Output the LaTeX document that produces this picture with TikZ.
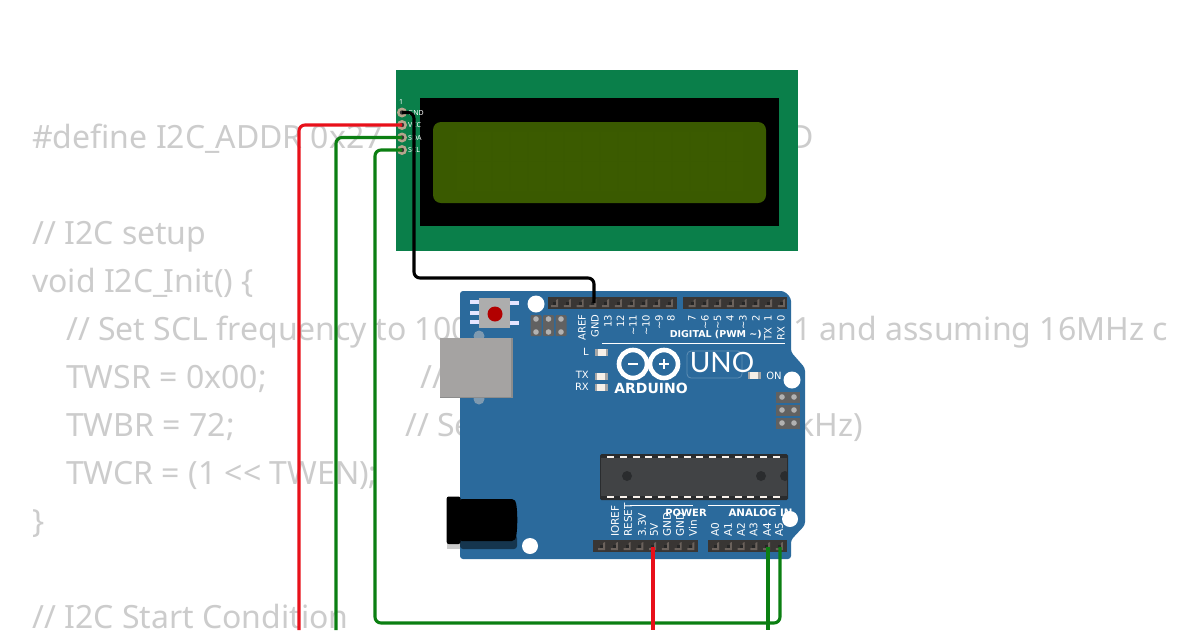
\documentclass[tikz,border=0pt]{standalone}
\usepackage{fontspec}
\setmainfont{Noto Sans}
\newfontfamily\lightuno{Lato}
\newfontfamily\silkfont{DejaVu Sans}
\colorlet{codegrey}{black!20}
\definecolor{pcbblue}{HTML}{2B6A9C}
\definecolor{lcdgreen}{HTML}{0A7F4A}
\definecolor{lcdolive}{HTML}{3A5A00}
\definecolor{cellolive}{HTML}{3B5B00}
\definecolor{hdrdark}{HTML}{393634}
\definecolor{hdrpin}{HTML}{6B625C}
\definecolor{pintan}{HTML}{B5A58C}
\definecolor{wirered}{HTML}{E8101A}
\definecolor{wiregreen}{HTML}{0B7F12}
\definecolor{icbody}{HTML}{414345}
\definecolor{icedge}{HTML}{2A2C2E}
\definecolor{usbgrey}{HTML}{A5A3A2}
\definecolor{bumpblue}{HTML}{7F9AB0}
\tikzset{
  code/.style={anchor=base west,inner sep=0pt,text=codegrey,font=\fontsize{32}{32}\selectfont},
  wire/.style={line width=3.1pt,rounded corners=6pt},
  hole/.style={fill=white,draw=none},
  silk/.style={inner sep=0pt,text=white,font=\silkfont\fontsize{10}{10}\selectfont},
  silkb/.style={inner sep=0pt,text=white,font=\silkfont\bfseries\fontsize{10}{10}\selectfont},
  lcdpin/.style={inner sep=0pt,anchor=west,text=white,font=\fontsize{7}{7}\selectfont},
}
\newcommand{\hdrbar}[3]{% x0, x1, y-top
  \fill[hdrdark] (#1,#3) rectangle (#2,#3+12);}
\newcommand{\hdrmark}[2]{% x, y-top
  \fill[hdrpin] (#1-4,#2+8) -- (#1+1,#2+8) -- (#1+1,#2+3) -- (#1+3,#2+2) -- (#1+3,#2+10) -- (#1-4,#2+10) -- cycle;
  \fill[black!85] (#1-2,#2+5) rectangle (#1+1,#2+8);}
\newcommand{\ledpart}[2]{%
  \fill[white!88!brown] (#1-6.5,#2-3.5) rectangle (#1+6.5,#2+3.5);
  \fill[black!35] (#1-6.5,#2-3.5) rectangle (#1-4,#2+3.5);
  \fill[black!35] (#1+4,#2-3.5) rectangle (#1+6.5,#2+3.5);}
\begin{document}
\begin{tikzpicture}[x=1pt,y=-1pt]
\useasboundingbox (0,0) rectangle (1200,630);
\fill[white] (0,0) rectangle (1200,630);
% code behind the parts
\node[code] (c1) at (32,148) {\#define I2C\_\hspace{-4pt}ADDR 0x27};
\node[code] (c1b) at (790,148) {D};
\node[code] (c2) at (32,244) {// I2C setup};
\node[code] (c3) at (32,292) {void I2C\_\hspace{-4pt}Init() \{};
\node[code] (c4) at (66,340) {// Set SCL frequency to 100};
\node[code] (c4b) at (793,340) {1 and assuming 16MHz c};
\node[code] (c5) at (66,388) {TWSR = 0x00;};
\node[code] (c5b) at (420,388) {//};
\node[code] (c6) at (66,436) {TWBR = 72;};
\node[code] (c6b) at (405,436) {// Se};
\node[code] (c6c) at (797,436) {kHz)};
\node[code] (c7) at (66,484) {TWCR = (1 <{}< TWEN);};
\node[code] (c8) at (32,532) {\}};
\node[code] (c9) at (32,628) {// I2C Start Condition};
% LCD
\fill[lcdgreen] (396,70) rectangle (798,251);
\fill[black] (420,98) rectangle (779,226);
\fill[lcdolive,rounded corners=8pt] (433,122) rectangle (766,203);
\foreach \i in {0,...,15}{
  \foreach \j in {0,1}{
    \fill[cellolive] (457+\i*18,132+\j*30) rectangle (473+\i*18,161+\j*30);
  }}
\node[lcdpin,anchor=center] (l1) at (401,102) {1};
\foreach \nm/\yy/\txt in {gnd/112.5/GND,vcc/125/VCC,sda/137.5/SDA,scl/150/SCL}{
  \fill[pintan] (402,\yy) circle (5);
  \fill[black!80] (402,\yy) circle (2.2);
  \node[lcdpin] (lbl\nm) at (408,\yy) {\txt};
  \coordinate (pin\nm) at (402,\yy);
}
% board
\fill[pcbblue,rounded corners=3pt] (460,291) -- (784,291) -- (791,298) -- (791,352) -- (805,368) -- (805,525) -- (791,540) -- (791,559) -- (460,559) -- cycle;
% usb
\fill[bumpblue] (479,336) circle (5.5);
\fill[bumpblue] (479,399) circle (5.5);
\fill[usbgrey] (440,338) rectangle (512,398);
\fill[black!45] (511,338) rectangle (513,398);
\fill[black!45] (440,396.5) rectangle (513,398);
% reset button
\foreach \yy in {302,313,322}{\fill[white!90!blue] (470,\yy-2) rectangle (479,\yy+2);}
\foreach \yy in {303,323}{\fill[white!90!blue] (510,\yy-2) rectangle (519,\yy+2);}
\fill[black!32] (479,298) rectangle (510,328);
\fill[red!70!black] (495,314) circle (7.5);
% ICSP
\foreach \xx in {536,548.5,561}{
  \fill[black!62,rounded corners=1pt] (\xx-5.5,315) rectangle (\xx+5.5,336);
  \fill[black!30] (\xx,319) circle (2.8);
  \fill[black!30] (\xx,332) circle (2.8);
}
\foreach \yy in {397,410,423}{
  \fill[black!62] (776,\yy-5.5) rectangle (800,\yy+5.5);
  \fill[black!30] (782,\yy) circle (2.8);
  \fill[black!30] (794,\yy) circle (2.8);
}
% headers
\hdrbar{548}{677}{297}
\foreach \i in {0,...,9}{\hdrmark{555+\i*12.75}{297}}
\hdrbar{683}{787}{297}
\foreach \i in {0,...,7}{\hdrmark{692.5+\i*12.75}{297}}
\hdrbar{593}{698}{540}
\foreach \i in {0,...,7}{\hdrmark{602+\i*12.75}{540}}
\hdrbar{708}{787}{540}
\foreach \i in {0,...,5}{\hdrmark{716+\i*12.75}{540}}
\coordinate (hgnd) at (594,303);
\coordinate (h5v) at (653,547);
\coordinate (ha4) at (768,547);
\coordinate (ha5) at (780,547);
% top labels
\foreach \xx/\txt in {582/AREF,595/GND,608/13,620.5/12,633/{\textasciitilde 11},646/{\textasciitilde 10},659/{\textasciitilde 9},671/8,692/7,705/{\textasciitilde 6},717.5/{\textasciitilde 5},730/4,743/{\textasciitilde 3},756/2,768/1,781/0}{
  \node[silk,rotate=90,anchor=east] (t\xx) at (\xx,314.5) {\txt};
}
\node[silkb,anchor=east,font=\silkfont\bfseries\fontsize{9.5}{9.5}\selectfont] (digital) at (762,335) {DIGITAL (PWM \textasciitilde)};
\node[silk,rotate=90,anchor=west] (ttx) at (768,341) {TX};
\node[silk,rotate=90,anchor=west] (trx) at (781,341) {RX};
\draw[white,line width=1pt] (602,343.5) -- (785,343.5);
% leds
\node[silk,anchor=east] (ll) at (589,352) {L};
\node[silk,anchor=east] (ltx) at (589,375) {TX};
\node[silk,anchor=east] (lrx) at (589,387) {RX};
\ledpart{601.5}{352}
\ledpart{601}{376}
\ledpart{601}{387}
\ledpart{754}{375.5}
\node[silk] (lon) at (774,375.5) {ON};
% logo
\draw[white,line width=4.6pt] (633,364) circle (14);
\draw[white,line width=4.6pt] (664,364) circle (14);
\fill[white] (628,362.8) rectangle (638,365.2);
\fill[white] (659,362.8) rectangle (669,365.2);
\fill[white] (662.8,359) rectangle (665.2,369);
\node[silkb,anchor=center,font=\silkfont\bfseries\fontsize{14}{14}\selectfont] (ard) at (651,388) {ARDUINO};
\draw[white!25!pcbblue,line width=0.8pt,rounded corners=4pt] (687,351) rectangle (742,378);
\node[inner sep=0pt,text=white,font=\lightuno\fontsize{28}{28}\selectfont] (uno) at (722,362) {UNO};
% IC
\fill[icedge,rounded corners=1.5pt] (600,454) rectangle (788,500);
\fill[icbody] (601,458) rectangle (787,496);
\foreach \i in {0,...,13}{
  \fill[white!90!brown] (607+\i*12.75,455.5) rectangle (614+\i*12.75,458);
  \fill[white!90!brown] (607+\i*12.75,495.5) rectangle (614+\i*12.75,498);
}
\fill[icedge] (627,476) circle (5);
\fill[icedge] (761,476) circle (5);
\begin{scope}
\clip (601,458) rectangle (787,496);
\fill[icedge] (785,476) circle (5);
\end{scope}
% lower labels
\foreach \xx/\txt in {615/IOREF,628/RESET,642/3.3V,654/5V,667/GND,680/GND,693/Vin,715/A0,728/A1,741/A2,753.5/A3,767/A4,779/A5}{
  \node[silk,rotate=90,anchor=west,font=\silkfont\fontsize{10.5}{10.5}\selectfont] (b\xx) at (\xx,537) {\txt};
}
\draw[white,line width=1pt] (630,505.5) -- (693,505.5);
\draw[white,line width=1pt] (708,505.5) -- (780,505.5);
\node[silkb,anchor=center] (power) at (686,513) {POWER};
\node[silkb,anchor=center,font=\silkfont\bfseries\fontsize{10.3}{10.3}\selectfont] (analog) at (760.5,513) {ANALOG IN};
% holes
\fill[hole] (536,304) circle (8.5);
\fill[hole] (792,380) circle (8.5);
\fill[hole] (790,519) circle (8);
\fill[hole] (530,546) circle (8);
% jack
\fill[black!20] (447,540) rectangle (460,549);
\fill[black!50!pcbblue,rounded corners=3pt] (460,535) rectangle (517,549);
\fill[black,rounded corners=2pt] (460,499) -- (514,499) .. controls (518,505) and (518,535) .. (514,541) -- (460,541) -- cycle;
\fill[black,rounded corners=2pt] (446.7,496.5) rectangle (460.5,544);
% wires
\coordinate (offred) at (299,630);
\coordinate (offsda) at (336,630);
\coordinate (off5v) at (653,630);
\coordinate (offa4) at (768,630);
\draw[wire,black] (pingnd) -- (414,112.5) -- (414,278) -- (594,278) -- (hgnd);
\draw[wire,wirered] (pinvcc) -- (299,125) -- (offred);
\draw[wire,wiregreen] (pinsda) -- (336,137.5) -- (offsda);
\draw[wire,wiregreen] (pinscl) -- (375,150) -- (375,623) -- (780,623) -- (ha5);
\draw[wire,wirered] (h5v) -- (off5v);
\draw[wire,wiregreen] (ha4) -- (offa4);
\end{tikzpicture}
\end{document}
